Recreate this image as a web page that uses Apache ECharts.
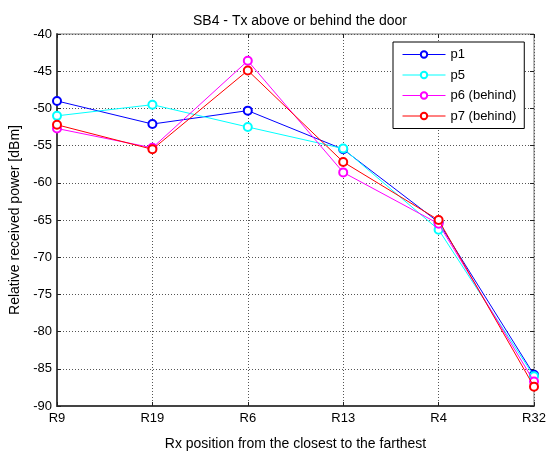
<!DOCTYPE html>
<html>
<head>
<meta charset="utf-8">
<script src="https://cdn.jsdelivr.net/npm/echarts@6/dist/echarts.min.js"></script>
<style>
html,body{margin:0;padding:0;background:#fff;}
#chart{width:549px;height:456px;}
</style>
</head>
<body>
<div id="chart"></div>
<script>
const categories = ['R9', 'R19', 'R6', 'R13', 'R4', 'R32'];
const p1 = [-49.0, -52.1, -50.3, -55.5, -65.3, -85.8];
const p5 = [-51.0, -49.5, -52.5, -55.4, -66.3, -86.0];
const p6 = [-52.7, -55.3, -43.6, -58.6, -65.5, -86.7];
const p7 = [-52.2, -55.5, -44.9, -57.2, -65.0, -87.4];
const seriesNames = ['p1', 'p5', 'p6 (behind)', 'p7 (behind)'];
const seriesColors = ['#0000ff', '#00ffff', '#ff00ff', '#ff0000'];
const yTicks = { min: -90, max: -40, interval: 5 };

const font = 'Liberation Sans, Arial, sans-serif';
const chart = echarts.init(document.getElementById('chart'), null, { renderer: 'canvas' });

const dataSets = [p1, p5, p6, p7];
const series = dataSets.map((d, i) => ({
  name: seriesNames[i],
  type: 'line',
  data: d,
  symbol: 'emptyCircle',
  symbolSize: 8,
  showSymbol: true,
  lineStyle: { color: seriesColors[i], width: 1 },
  itemStyle: { color: seriesColors[i], borderColor: seriesColors[i], borderWidth: 1 },
  emphasis: { disabled: true },
  animation: false,
  z: 3 + i
}));

const gridLine = { show: true, lineStyle: { color: '#555', type: [1, 2], width: 1 } };

chart.setOption({
  backgroundColor: '#fff',
  animation: false,
  title: {
    text: 'SB4 - Tx above or behind the door',
    left: 295, top: 9, textAlign: 'center',
    textStyle: { fontFamily: font, fontSize: 14, fontWeight: 'normal', color: '#000' }
  },
  grid: { left: 57, right: 15, top: 34, bottom: 48, show: true, borderColor: '#777', borderWidth: 1 },
  legend: {
    orient: 'vertical',
    left: 393, top: 42,
    itemWidth: 43, itemHeight: 8, itemGap: 7.5,
    padding: [6, 8, 6, 9],
    borderColor: '#000', borderWidth: 1,
    backgroundColor: '#fff',
    itemStyle: { borderWidth: 1 },
    lineStyle: { width: 1 },
    textStyle: { fontFamily: font, fontSize: 13, color: '#000' },
    data: seriesNames
  },
  xAxis: [{
    type: 'category',
    data: categories,
    boundaryGap: false,
    name: 'Rx position from the closest to the farthest',
    nameLocation: 'middle',
    nameGap: 31,
    nameTextStyle: { fontFamily: font, fontSize: 14, color: '#000' },
    axisLine: { show: true, lineStyle: { color: '#444', width: 2 } },
    axisTick: { show: true, inside: true, length: 4, alignWithLabel: true, lineStyle: { color: '#222' } },
    axisLabel: { fontFamily: font, fontSize: 13, color: '#000', margin: 6 },
    splitLine: gridLine
  }, {
    type: 'category',
    data: categories,
    boundaryGap: false,
    position: 'top',
    axisLine: { show: false },
    axisTick: { show: true, inside: true, length: 4, lineStyle: { color: '#222' } },
    axisLabel: { show: false },
    splitLine: { show: false }
  }],
  yAxis: [{
    type: 'value',
    min: yTicks.min, max: yTicks.max, interval: yTicks.interval,
    name: 'Relative received power [dBm]',
    nameLocation: 'middle',
    nameGap: 31,
    nameTextStyle: { fontFamily: font, fontSize: 14, color: '#000' },
    axisLine: { show: true, lineStyle: { color: '#444', width: 2 } },
    axisTick: { show: true, inside: true, length: 4, lineStyle: { color: '#222' } },
    axisLabel: { fontFamily: font, fontSize: 13, color: '#000', margin: 5 },
    splitLine: gridLine
  }, {
    type: 'value',
    min: yTicks.min, max: yTicks.max, interval: yTicks.interval,
    position: 'right',
    axisLine: { show: false },
    axisTick: { show: true, inside: true, length: 4, lineStyle: { color: '#222' } },
    axisLabel: { show: false },
    splitLine: { show: false }
  }],
  series: series
});
</script>
</body>
</html>
